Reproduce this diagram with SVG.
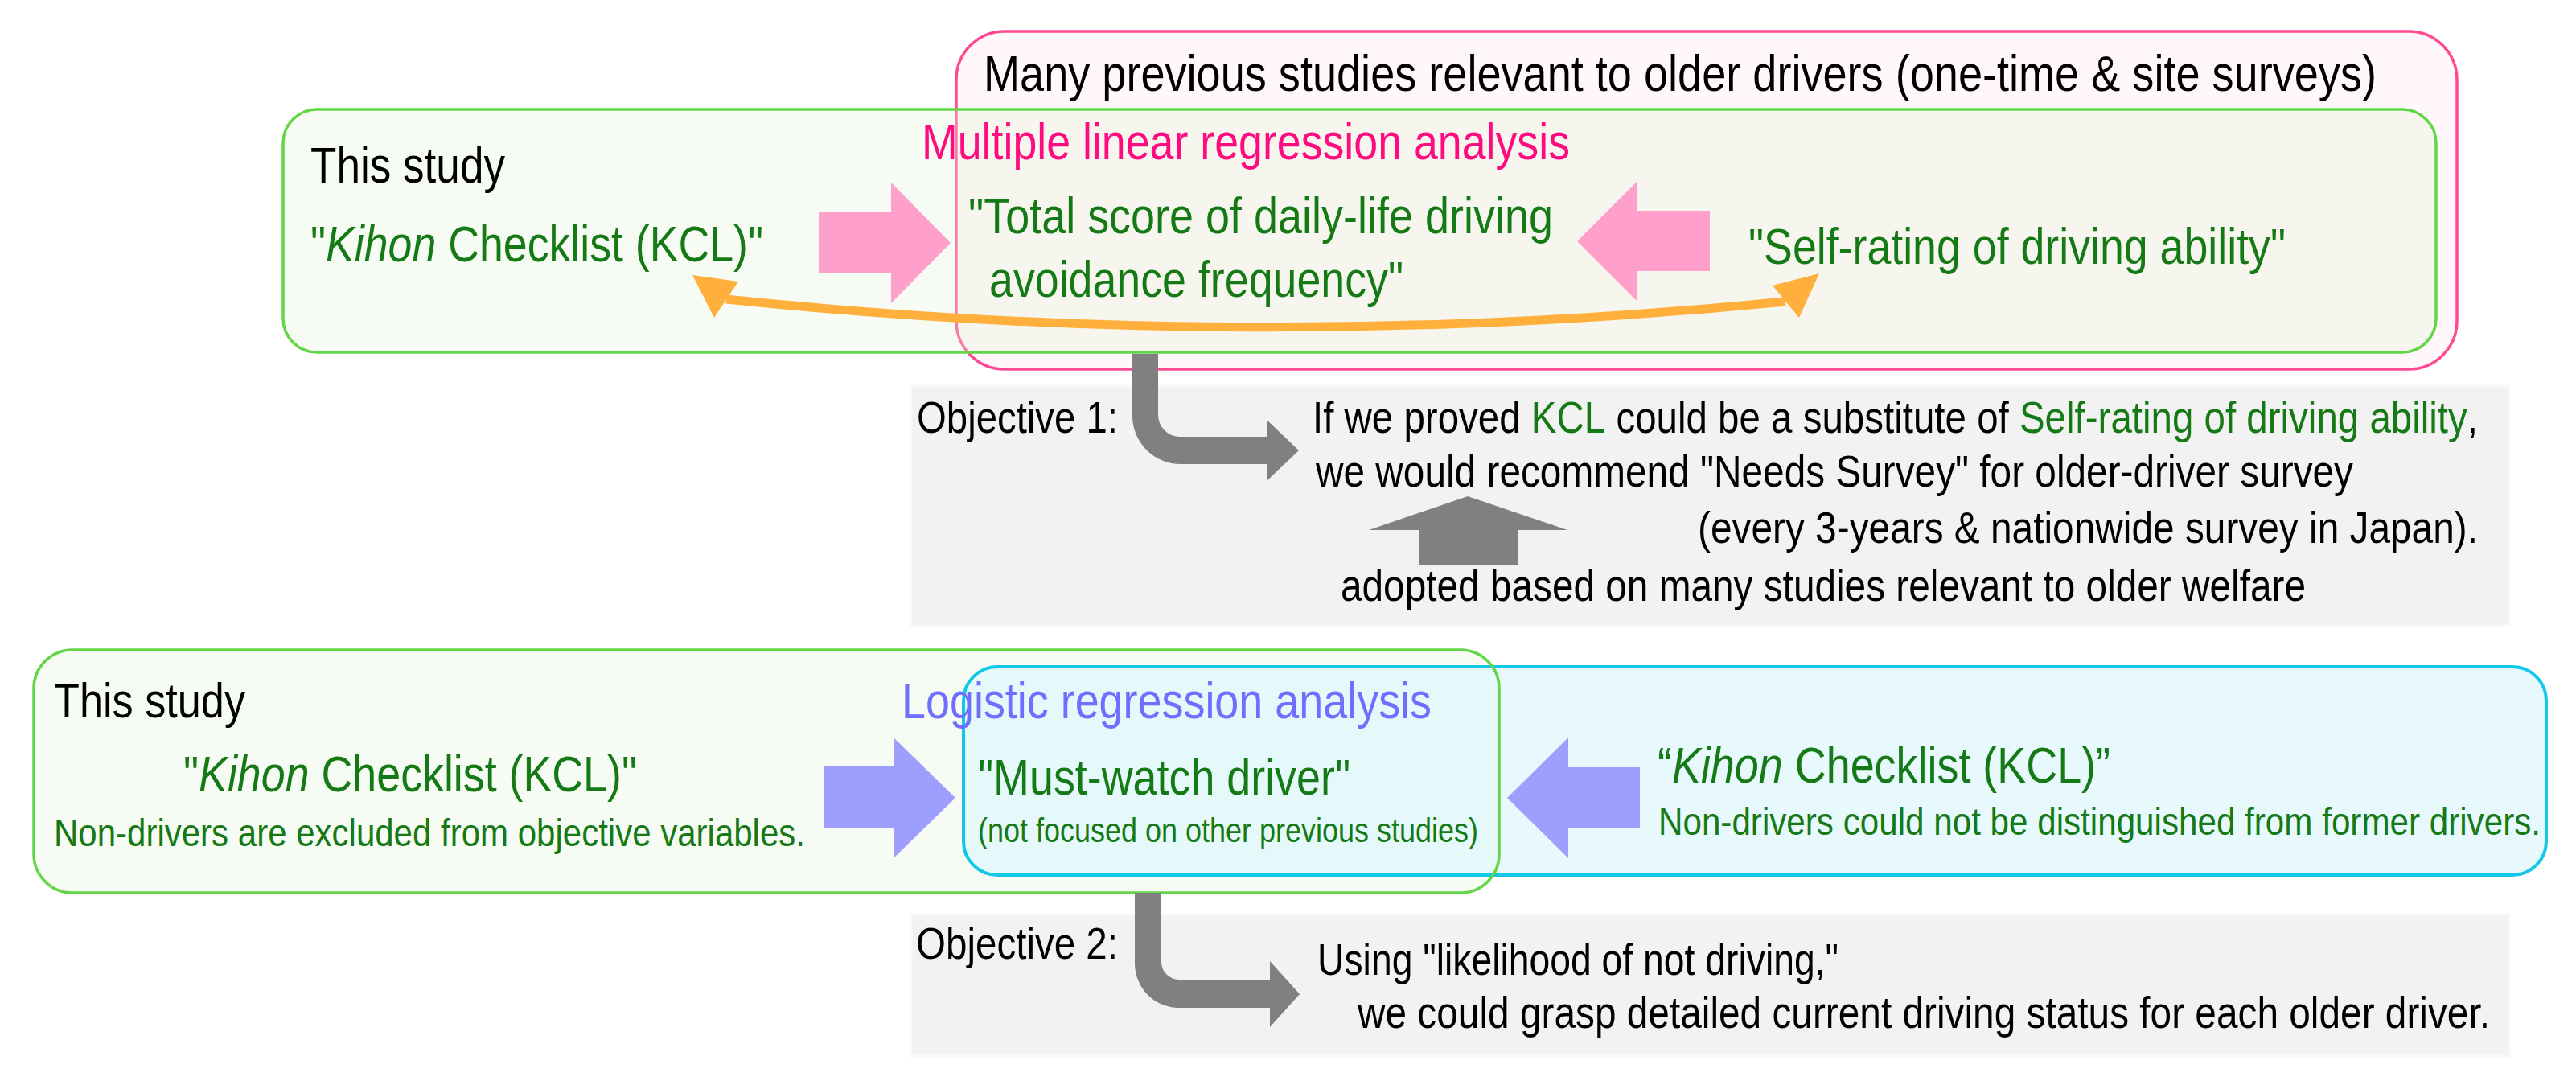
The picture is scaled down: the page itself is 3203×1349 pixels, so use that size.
<svg xmlns="http://www.w3.org/2000/svg" width="3203" height="1349" viewBox="0 0 3203 1349">
<style>
text{font-family:"Liberation Sans",Arial,Helvetica,sans-serif;}
.k{fill:#000000;}
.g{fill:#157a15;}
.L{font-size:53.7px;}
.M{font-size:47.5px;}
.S{font-size:42px;}
.XS{font-size:36px;}
.it{font-style:italic;}
.grn{stroke:#62d646;stroke-width:3.5;}
.gray{fill:#808080;}
.pinkA{fill:#ff9fcb;}
.blueA{fill:#9e9eff;}
.objbox{fill:#f2f2f2;stroke:#f8f8f8;stroke-width:3;}
</style>
<rect width="3203" height="1349" fill="#ffffff"/>

<g id="previous-studies-box">
<rect x="1189" y="39" width="1866" height="420" rx="60" fill="#fff7fa" stroke="#ff4a93" stroke-width="3.5"/>
</g>
<g id="this-study-top-box">
<rect class="grn" x="352" y="136" width="2677" height="302" rx="42" fill="rgb(225,245,215)" fill-opacity="0.3"/>
</g>
<g id="objective1-box">
<rect class="objbox" x="1133" y="480" width="1987" height="298"/>
</g>
<g id="this-study-bottom-box">
<rect x="42" y="808" width="1822" height="302" rx="48" fill="#f6fcf3"/>
</g>
<g id="previous-bottom-box">
<rect x="1198" y="829" width="1968" height="259" rx="42" fill="rgb(225,248,252)" fill-opacity="0.8" stroke="#12c8e8" stroke-width="4"/>
<rect class="grn" x="42" y="808" width="1822" height="302" rx="48" fill="none"/>
</g>
<g id="objective2-box">
<rect class="objbox" x="1133" y="1137" width="1987" height="176"/>
</g>

<g id="connectors">
<polygon class="pinkA" points="1018,263 1108,263 1108,227 1182,302 1108,377 1108,340 1018,340"/>
<polygon class="pinkA" points="2126,262 2036,262 2036,225 1961,300 2036,375 2036,337 2126,337"/>
<path d="M903 372 Q1560 440 2220 375" fill="none" stroke="#ffb03c" stroke-width="11"/>
<polygon fill="#ffb03c" points="861,342 918,350 888,395"/>
<polygon fill="#ffb03c" points="2262,340 2204,355 2237,395"/>
<path class="gray" d="M1408 440 V517 A60 60 0 0 0 1468 577 H1575 V598 L1615 560 L1575 522 V543 H1467 A27 27 0 0 1 1440 516 V440 Z"/>
<polygon class="gray" points="1825,617 1949,659 1888,659 1888,702 1764,702 1764,659 1702,659"/>
<polygon class="blueA" points="1024,953 1111,953 1111,917 1188,992 1111,1067 1111,1030 1024,1030"/>
<polygon class="blueA" points="2039,954 1950,954 1950,917 1874,992 1950,1067 1950,1029 2039,1029"/>
<path class="gray" d="M1411 1110 V1198 A55 55 0 0 0 1466 1253 H1579 V1277 L1616 1236 L1579 1195 V1218 H1466 A22 22 0 0 1 1444 1196 V1110 Z"/>
</g>

<g id="labels">
<text class="k L" transform="translate(1223 113) scale(1 1.16)" textLength="1732" lengthAdjust="spacingAndGlyphs">Many previous studies relevant to older drivers (one-time &amp; site surveys)</text>
<text class="L" transform="translate(1146 198) scale(1 1.16)" fill="#ff0a7f" textLength="806" lengthAdjust="spacingAndGlyphs">Multiple linear regression analysis</text>
<text class="k L" transform="translate(386 227) scale(1 1.16)" textLength="242" lengthAdjust="spacingAndGlyphs">This study</text>
<text class="g L" transform="translate(386 325) scale(1 1.16)" textLength="563" lengthAdjust="spacingAndGlyphs">"<tspan class="it">Kihon</tspan> Checklist (KCL)"</text>
<text class="g L" transform="translate(1204 290) scale(1 1.16)" textLength="727" lengthAdjust="spacingAndGlyphs">"Total score of daily-life driving</text>
<text class="g L" transform="translate(1230 369) scale(1 1.16)" textLength="515" lengthAdjust="spacingAndGlyphs">avoidance frequency"</text>
<text class="g L" transform="translate(2174 328) scale(1 1.16)" textLength="668" lengthAdjust="spacingAndGlyphs">"Self-rating of driving ability"</text>

<text class="k M" transform="translate(1140 538) scale(1 1.16)" textLength="250" lengthAdjust="spacingAndGlyphs">Objective 1:</text>
<text class="k M" transform="translate(1632 538) scale(1 1.16)" textLength="1449" lengthAdjust="spacingAndGlyphs">If we proved <tspan class="g">KCL</tspan> could be a substitute of <tspan class="g">Self-rating of driving ability</tspan>,</text>
<text class="k M" transform="translate(1636 605) scale(1 1.16)" textLength="1290" lengthAdjust="spacingAndGlyphs">we would recommend "Needs Survey" for older-driver survey</text>
<text class="k M" transform="translate(2111 675) scale(1 1.16)" textLength="970" lengthAdjust="spacingAndGlyphs">(every 3-years &amp; nationwide survey in Japan).</text>
<text class="k M" transform="translate(1667 747) scale(1 1.16)" textLength="1200" lengthAdjust="spacingAndGlyphs">adopted based on many studies relevant to older welfare</text>

<text class="k" font-size="52" transform="translate(67 892) scale(1 1.16)" textLength="238" lengthAdjust="spacingAndGlyphs">This study</text>
<text class="g L" transform="translate(228 984) scale(1 1.16)" textLength="564" lengthAdjust="spacingAndGlyphs">"<tspan class="it">Kihon</tspan> Checklist (KCL)"</text>
<text class="g S" transform="translate(67 1052) scale(1 1.16)" textLength="934" lengthAdjust="spacingAndGlyphs">Non-drivers are excluded from objective variables.</text>
<text class="L" transform="translate(1121 893) scale(1 1.16)" fill="#6e6eff" textLength="659" lengthAdjust="spacingAndGlyphs">Logistic regression analysis</text>
<text class="g L" transform="translate(1216 988) scale(1 1.16)" textLength="463" lengthAdjust="spacingAndGlyphs">"Must-watch driver"</text>
<text class="g XS" transform="translate(1216 1047) scale(1 1.16)" textLength="622" lengthAdjust="spacingAndGlyphs">(not focused on other previous studies)</text>
<text class="g L" transform="translate(2061 973) scale(1 1.16)" textLength="563" lengthAdjust="spacingAndGlyphs">“<tspan class="it">Kihon</tspan> Checklist (KCL)”</text>
<text class="g S" transform="translate(2062 1038) scale(1 1.16)" textLength="1097" lengthAdjust="spacingAndGlyphs">Non-drivers could not be distinguished from former drivers.</text>

<text class="k M" transform="translate(1139 1192) scale(1 1.16)" textLength="251" lengthAdjust="spacingAndGlyphs">Objective 2:</text>
<text class="k M" transform="translate(1638 1212) scale(1 1.16)" textLength="648" lengthAdjust="spacingAndGlyphs">Using "likelihood of not driving,"</text>
<text class="k M" transform="translate(1688 1278) scale(1 1.16)" textLength="1408" lengthAdjust="spacingAndGlyphs">we could grasp detailed current driving status for each older driver.</text>
</g>
</svg>
